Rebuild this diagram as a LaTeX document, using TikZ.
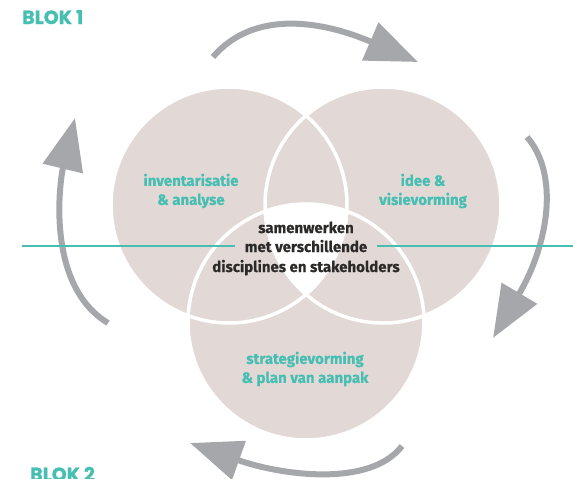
\documentclass[tikz,border=0pt]{standalone}
\usepackage{fontspec}
\setmainfont{Fira Sans}[BoldFeatures={FakeBold=0.5}]
\newfontfamily\blokfont{Poppins}[BoldFeatures={FakeBold=1.2}]
\usetikzlibrary{arrows.meta}
\usetikzlibrary{positioning,calc}
\definecolor{venn}{RGB}{226,217,215}
\definecolor{blokteal}{RGB}{70,190,178}
\definecolor{pijlgrijs}{RGB}{166,167,171}
\definecolor{donker}{RGB}{43,42,41}
\tikzset{
  pijl/.style={draw=pijlgrijs,line width=6pt,-{Triangle[width=40pt,length=52pt]}},
  lijn/.style={draw=blokteal,line width=2.3pt},
  vennlabel/.style={text=blokteal,font=\bfseries\fontsize{15}{19}\selectfont,align=center,inner sep=0pt},
  kern/.style={text=donker,font=\bfseries\fontsize{15}{19}\selectfont,inner sep=0pt},
  blok/.style={text=blokteal,font=\blokfont\bfseries\fontsize{19}{22}\selectfont,inner sep=0pt}
}

\begin{document}
\begin{tikzpicture}[x=1pt,y=-1pt]
\useasboundingbox (0,0) rectangle (573,479);
\clip (0,0) rectangle (573,479);
\def\r{118}
\coordinate (cL) at (229,205);
\coordinate (cR) at (383,205);
\coordinate (cB) at (306,322);
% cirkels
\foreach \c in {cL,cR,cB} \fill[venn] (\c) circle[radius=\r];
\begin{scope}
\clip (cL) circle[radius=\r];
\clip (cR) circle[radius=\r];
\fill[white] (cB) circle[radius=\r];
\end{scope}
\foreach \c in {cL,cR,cB} \draw[white,line width=3.5pt] (\c) circle[radius=\r];
% pijlen
\coordinate (boogA) at (213,57);
\coordinate (puntA) at (418,62);
\coordinate (boogB) at (527,137);
\coordinate (puntB) at (493,338);
\coordinate (boogC) at (402,446);
\coordinate (puntC) at (190,443);
\coordinate (boogD) at (108,323);
\coordinate (puntD) at (75,118);
\draw[pijl] (boogA) .. controls (255,8) and (325,22) .. (puntA);
\draw[pijl] (boogB) .. controls (560,175) and (548,245) .. (puntB);
\draw[pijl] (boogC) .. controls (370,488) and (280,475) .. (puntC);
\draw[pijl] (boogD) .. controls (45,285) and (60,180) .. (puntD);
% teksten
\node[vennlabel] (inv) at (191,191) {inventarisatie\\ \& analyse};
\node[vennlabel] (idee) at (423,191) {idee \&\\ visievorming};
\node[vennlabel] (strat) at (305,369) {strategievorming\\ \& plan van aanpak};
\node[kern,anchor=base,inner xsep=10pt] (kernB) at (306,252) {met verschillende};
\node[kern,anchor=base] (kernA) at ([yshift=19pt]kernB.base) {samenwerken};
\node[kern,anchor=base] (kernC) at ([yshift=-20pt]kernB.base) {disciplines en stakeholders};
% lijn
\coordinate (lijnL) at (22,246);
\coordinate (lijnR) at (573,246);
\draw[lijn] (lijnL) -- (lijnL -| kernB.west);
\draw[lijn] (kernB.east |- lijnR) -- (lijnR);
\node[blok,anchor=base west] (blok1) at (22,24) {BLOK 1};
\node[blok,anchor=base west] (blok2) at (30,481) {BLOK 2};
\end{tikzpicture}
\end{document}
